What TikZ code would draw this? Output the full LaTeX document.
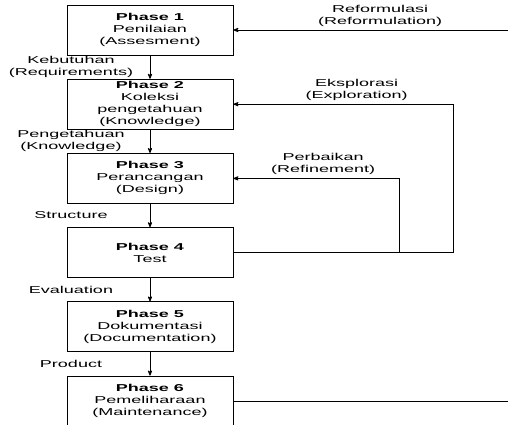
\documentclass[tikz,border=0pt]{standalone}
\usepackage{fontspec}
\setmainfont{Liberation Sans}[FakeStretch=1.8]
\usetikzlibrary{arrows,positioning}

\tikzset{phase/.style={draw, minimum width=166pt, minimum height=50pt, inner sep=0pt}}

\begin{document}
\begin{tikzpicture}[x=1pt,y=-1pt,>=stealth',line width=0.8pt,node distance=23.4pt,
    every node/.style={font=\fontsize{10}{12}\selectfont, align=center}]
  \useasboundingbox (0,0) rectangle (508,425);
  \clip (0,0) rectangle (508,425);

  \node[phase] (p1) at (150,30)  {\textbf{Phase 1}\\Penilaian\\(Assesment)};
  \node[phase] (p2) [below=of p1] {\textbf{Phase 2}\\Koleksi\\pengetahuan\\(Knowledge)};
  \node[phase] (p3) [below=of p2] {\textbf{Phase 3}\\Perancangan\\(Design)};
  \node[phase] (p4) [below=of p3] {\textbf{Phase 4}\\Test};
  \node[phase] (p5) [below=of p4] {\textbf{Phase 5}\\Dokumentasi\\(Documentation)};
  \node[phase] (p6) [below=of p5] {\textbf{Phase 6}\\Pemeliharaan\\(Maintenance)};

  \coordinate (refine) at ([xshift=166pt]p4.east);
  \coordinate (explore) at ([xshift=220pt]p4.east);
  \coordinate (reform) at ([xshift=282pt]p6.east);

  \draw[->]
      (p1) edge node[xshift=-79pt] {Kebutuhan\\(Requirements)} (p2)
      (p2) edge node[xshift=-79pt] {Pengetahuan\\(Knowledge)} (p3)
      (p3) edge node[xshift=-79pt] {Structure} (p4)
      (p4) edge node[xshift=-79pt] {Evaluation} (p5)
      (p5) edge node[xshift=-79pt] {Product} (p6);

  % feedback loops
  \draw[->] (p4.east) -- (explore) |- node[pos=0.72, above] {Eksplorasi\\(Exploration)} (p2.east);
  \draw[->] (refine) |- node[pos=0.73, above] {Perbaikan\\(Refinement)} (p3.east);
  \draw[->] (p6.east) -- (reform) |- node[pos=0.74, above] {Reformulasi\\(Reformulation)} (p1.east);
\end{tikzpicture}
\end{document}
